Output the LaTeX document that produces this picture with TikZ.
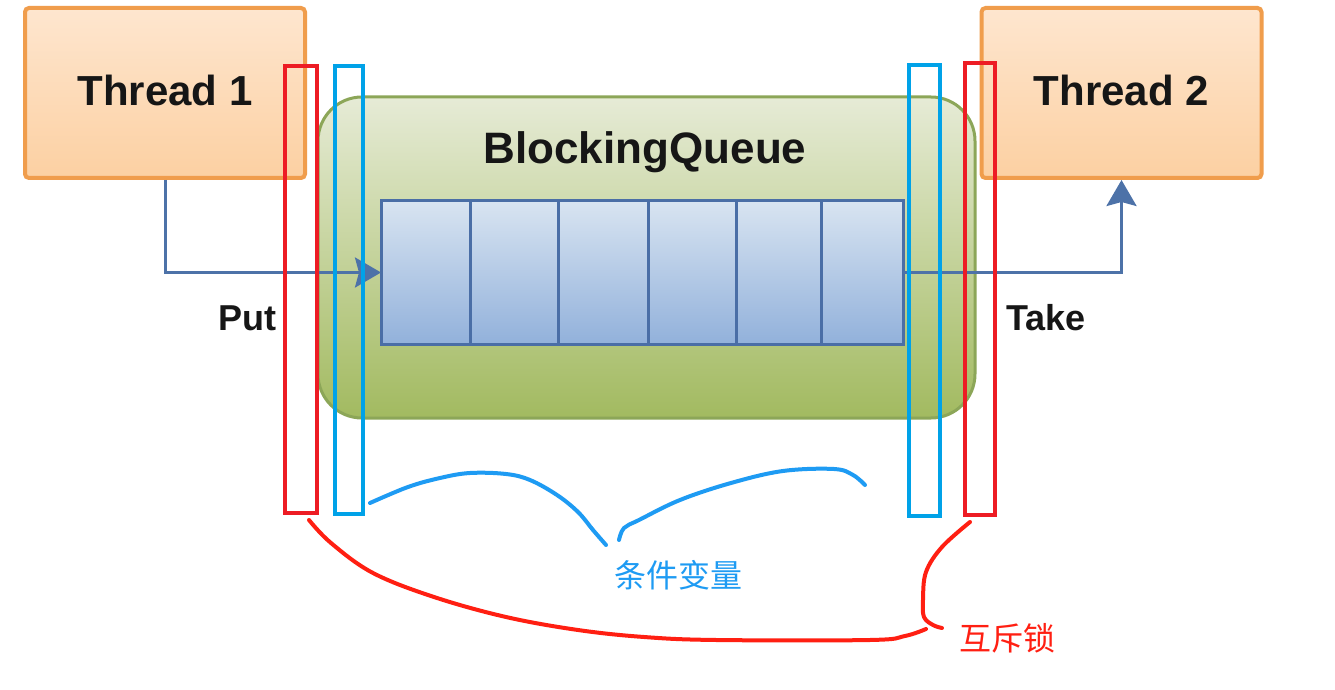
\documentclass[tikz,border=0pt]{standalone}
\usepackage{fontspec}
\setmainfont{Liberation Sans}
\newfontfamily\cjk{Noto Sans CJK SC}
\usetikzlibrary{arrows.meta}
\definecolor{thrBorder}{HTML}{F09D4C}
\definecolor{thrTop}{HTML}{FEE6CF}
\definecolor{thrBot}{HTML}{FCD0A2}
\definecolor{grnBorder}{HTML}{8CA658}
\definecolor{grnTop}{HTML}{E6EBD6}
\definecolor{grnBot}{HTML}{A2BA60}
\definecolor{cellBorder}{HTML}{4A6EA6}
\definecolor{cellTop}{HTML}{D8E4F1}
\definecolor{cellBot}{HTML}{92B1DB}
\definecolor{flowCol}{HTML}{4D72A8}
\definecolor{annRed}{HTML}{ED1C24}
\definecolor{annBlue}{HTML}{00A2E8}
\definecolor{handBlue}{HTML}{1E9BF3}
\definecolor{handRed}{HTML}{FF1F12}
\definecolor{txt}{HTML}{161616}
\tikzset{
  thread/.style={draw=thrBorder, line width=2pt, top color=thrTop, bottom color=thrBot,
    rounded corners=2pt, minimum width=140pt, minimum height=85pt, inner sep=0pt,
    text=txt, font=\bfseries\fontsize{21}{25}\selectfont},
  container/.style={draw=grnBorder, line width=1.5pt, top color=grnTop, bottom color=grnBot,
    rounded corners=22pt, minimum width=328.5pt, minimum height=160.5pt, inner sep=0pt},
  cell/.style={draw=cellBorder, line width=1.5pt, top color=cellTop, bottom color=cellBot,
    minimum height=71.5pt, inner sep=0pt, outer sep=0pt, anchor=west},
  flow/.style={draw=flowCol, line width=1.5pt, -{Stealth[inset=2pt,length=13pt,width=15pt]}},
  lbl/.style={text=txt, font=\bfseries\fontsize{18}{22}\selectfont},
  redbox/.style={draw=annRed, line width=2.4pt, inner sep=0pt},
  bluebox/.style={draw=annBlue, line width=2.4pt, inner sep=0pt},
  hand/.style={line width=2pt, line cap=round, line join=round},
}
\begin{document}
\begin{tikzpicture}[x=0.5pt,y=-0.5pt]
\useasboundingbox (0,0) rectangle (1335,690);
\fill[white] (0,0) rectangle (1335,690);
% threads
\node[thread] (t1) at (165,93) {\raisebox{3pt}{Thread 1}};
\node[thread] (t2) at (1121.5,93) {\raisebox{3pt}{Thread 2}};
% container
\node[container] (bq) at (646.5,257.5) {};
\node[text=txt, font=\bfseries\fontsize{22}{26}\selectfont] (bqlabel) at (645,152) {BlockingQueue};
% cells
\node[cell, minimum width=44.5pt] (c1) at (381,272.5) {};
\node[cell, minimum width=44pt] (c2) at (c1.east) {};
\node[cell, minimum width=45pt] (c3) at (c2.east) {};
\node[cell, minimum width=44pt] (c4) at (c3.east) {};
\node[cell, minimum width=42.5pt] (c5) at (c4.east) {};
\node[cell, minimum width=41pt] (c6) at (c5.east) {};
% flows
\draw[flow] (t1.south) |- (c1.west);
\draw[flow] (c6.east) -| (t2.south);
\node[lbl] (put) at (247,318) {Put};
\node[lbl] (take) at (1046,318) {Take};
% annotation boxes
\node[redbox, minimum width=16pt, minimum height=223.5pt] (r1) at (301,289.5) {};
\node[bluebox, minimum width=14pt, minimum height=224pt] (b1) at (349,290) {};
\node[bluebox, minimum width=15.5pt, minimum height=225.5pt] (b2) at (924.5,290.5) {};
\node[redbox, minimum width=15pt, minimum height=226pt] (r2) at (980,289) {};
% hand-drawn braces
\draw[hand, handBlue] plot[smooth, tension=0.6] coordinates {(370,503) (408,487) (440,478) (470,473) (506,474) (530,480) (557,495) (578,512) (593,530) (606,545)};
\draw[hand, handBlue] plot[smooth, tension=0.6] coordinates {(619,540) (624,528) (639,520) (680,500) (731,483) (783,471) (834,469) (853,475) (865,485)};
\draw[hand, handRed] plot[smooth, tension=0.6] coordinates {(309,520) (331,543) (373,573) (434,597) (506,617) (578,630) (644,637) (716,640) (870,640) (905,636) (926,629)};
\draw[hand, handRed] plot[smooth, tension=0.6] coordinates {(970,522) (942,547) (926,572) (923,600) (924,617) (933,625) (942,628)};
\node[text=handBlue, font=\cjk\fontsize{16}{19}\selectfont] (cv) at (678,575) {条件变量};
\node[text=handRed, font=\cjk\fontsize{16}{19}\selectfont] (mx) at (1007,638) {互斥锁};
\end{tikzpicture}
\end{document}
